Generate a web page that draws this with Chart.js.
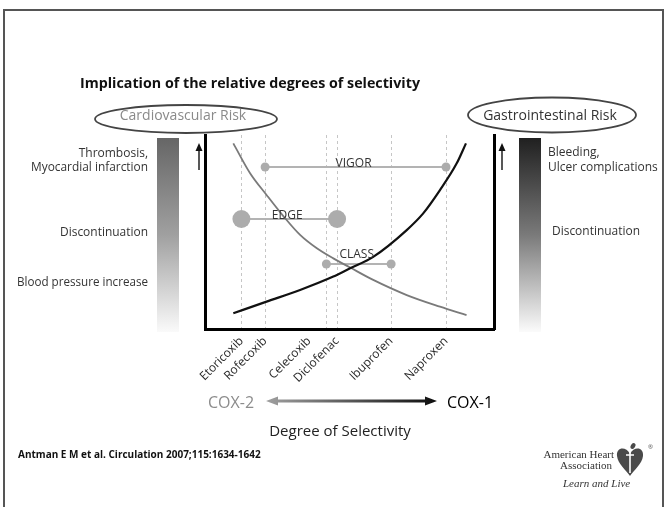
<!DOCTYPE html>
<html>
<head>
<meta charset="utf-8">
<title>Implication of the relative degrees of selectivity</title>
<script src="https://cdn.jsdelivr.net/npm/chart.js@4.4.1/dist/chart.umd.min.js"></script>
<style>
  html, body { margin: 0; padding: 0; background: #fff; }
  #wrap { position: relative; width: 667px; height: 507px; }
</style>
</head>
<body>
<div id="wrap"><canvas id="selectivity" width="667" height="507"></canvas></div>
<script>
// drugs along the COX-2 -> COX-1 selectivity axis (axis runs 0..100)
const drugs = ['Etoricoxib', 'Rofecoxib', 'Celecoxib', 'Diclofenac', 'Ibuprofen', 'Naproxen'];
const drugPos = [12.6, 20.8, 42.0, 45.7, 64.4, 83.4];

// cardiovascular risk (gray, falling) and gastrointestinal risk (black, rising)
const cvX = [9.8, 15.6, 21.3, 27.1, 32.9, 38.7, 44.4, 50.2, 58.2, 69.8, 81.3, 90.5];
const cvY = [95.7, 80.3, 69.1, 58.2, 48.5, 41.6, 36.4, 31.7, 25.3, 17.5, 11.5, 7.2];
const giX = [9.8, 21.3, 32.9, 44.4, 50.2, 58.2, 69.8, 75.5, 81.3, 87.1, 90.3];
const giY = [8.1, 14.1, 20.1, 27.0, 31.3, 37.2, 51.0, 59.6, 71.6, 85.4, 95.7];

// outcome trials: compared drugs (indices into drugs) and their level on the risk axis
const trialNames = ['VIGOR', 'EDGE', 'CLASS'];
const trialFrom = [1, 0, 2];
const trialTo = [5, 3, 4];
const trialLevel = [83.5, 56.7, 33.5];

const FONT = '"Open Sans", "Noto Sans", sans-serif';
const SERIF = '"Liberation Serif", "DejaVu Serif", serif';

function trialSet(i, dot) {
  return {
    label: trialNames[i],
    data: [
      { x: drugPos[trialFrom[i]], y: trialLevel[i] },
      { x: drugPos[trialTo[i]], y: trialLevel[i] }
    ],
    showLine: true,
    borderColor: '#b3b3b3',
    borderWidth: 2,
    pointRadius: dot,
    pointBackgroundColor: '#acacac',
    pointBorderWidth: 0
  };
}

function upArrow(ctx, x, yTail, yTip) {
  ctx.beginPath();
  ctx.moveTo(x, yTail);
  ctx.lineTo(x, yTip + 6);
  ctx.lineWidth = 1.4;
  ctx.strokeStyle = '#111';
  ctx.stroke();
  ctx.beginPath();
  ctx.moveTo(x, yTip);
  ctx.lineTo(x - 3.5, yTip + 8);
  ctx.lineTo(x + 3.5, yTip + 8);
  ctx.closePath();
  ctx.fillStyle = '#111';
  ctx.fill();
}

function text(ctx, str, x, y, font, color, align, maxW) {
  ctx.font = font;
  ctx.fillStyle = color;
  ctx.textAlign = align || 'left';
  ctx.textBaseline = 'alphabetic';
  if (maxW) ctx.fillText(str, x, y, maxW); else ctx.fillText(str, x, y);
}

// everything around the plot: frame, risk bars, ellipses, captions, logo
const slideDecor = {
  id: 'slideDecor',
  beforeDraw(chart) {
    const ctx = chart.ctx;
    ctx.save();
    ctx.fillStyle = '#fff';
    ctx.fillRect(0, 0, chart.width, chart.height);
    ctx.strokeStyle = '#555';
    ctx.lineWidth = 2;
    ctx.strokeRect(4, 10, 659, 510);

    // risk intensity bars
    let g = ctx.createLinearGradient(0, 138, 0, 332);
    g.addColorStop(0, '#666');
    g.addColorStop(0.5, '#a0a0a0');
    g.addColorStop(1, '#fafafa');
    ctx.fillStyle = g;
    ctx.fillRect(157, 138, 22, 194);
    g = ctx.createLinearGradient(0, 138, 0, 332);
    g.addColorStop(0, '#202020');
    g.addColorStop(0.5, '#7a7a7a');
    g.addColorStop(1, '#fbfbfb');
    ctx.fillStyle = g;
    ctx.fillRect(519, 138, 22, 194);

    // risk headers
    ctx.lineWidth = 1.8;
    ctx.strokeStyle = '#444';
    ctx.beginPath();
    ctx.ellipse(186, 119, 91, 14, 0, 0, Math.PI * 2);
    ctx.stroke();
    ctx.beginPath();
    ctx.ellipse(552, 115, 84, 17.5, 0, 0, Math.PI * 2);
    ctx.stroke();
    ctx.restore();
  },
  afterDraw(chart) {
    const ctx = chart.ctx;
    ctx.save();
    text(ctx, 'Implication of the relative degrees of selectivity', 80, 88, `bold 15px ${FONT}`, '#111', 'left', 340);
    text(ctx, 'Cardiovascular Risk', 183, 120, `14px ${FONT}`, '#8a8a8a', 'center', 140);
    text(ctx, 'Gastrointestinal Risk', 550, 120, `14px ${FONT}`, '#333', 'center', 134);

    const side = `12px ${FONT}`;
    text(ctx, 'Thrombosis,', 148, 157, side, '#333', 'right');
    text(ctx, 'Myocardial infarction', 148, 171, side, '#333', 'right', 117);
    text(ctx, 'Discontinuation', 148, 236, side, '#333', 'right', 88);
    text(ctx, 'Blood pressure increase', 148, 286, side, '#333', 'right', 131);
    text(ctx, 'Bleeding,', 548, 156, side, '#333', 'left');
    text(ctx, 'Ulcer complications', 548, 171, side, '#333', 'left', 110);
    text(ctx, 'Discontinuation', 552, 235, side, '#333', 'left', 88);

    upArrow(ctx, 199, 170, 143);
    upArrow(ctx, 502, 170, 143);

    // selectivity direction arrow
    const g = ctx.createLinearGradient(266, 0, 437, 0);
    g.addColorStop(0, '#a0a0a0');
    g.addColorStop(1, '#0d0d0d');
    ctx.fillStyle = g;
    ctx.beginPath();
    ctx.moveTo(266, 401);
    ctx.lineTo(278, 396.5);
    ctx.lineTo(278, 399.6);
    ctx.lineTo(425, 399.6);
    ctx.lineTo(425, 396.5);
    ctx.lineTo(437, 401);
    ctx.lineTo(425, 405.5);
    ctx.lineTo(425, 402.4);
    ctx.lineTo(278, 402.4);
    ctx.lineTo(278, 405.5);
    ctx.closePath();
    ctx.fill();
    text(ctx, 'COX-2', 208, 408, `16px ${FONT}`, '#8c8c8c', 'left', 49);
    text(ctx, 'COX-1', 447, 408, `16px ${FONT}`, '#000', 'left', 49);
    text(ctx, 'Degree of Selectivity', 340, 436, `15px ${FONT}`, '#222', 'center');

    text(ctx, 'Antman E M et al. Circulation 2007;115:1634-1642', 18, 458, `bold 10px ${FONT}`, '#111', 'left', 262);

    // association logo
    text(ctx, 'American Heart', 614, 458, `11px ${SERIF}`, '#333', 'right');
    text(ctx, 'Association', 612, 469, `11px ${SERIF}`, '#333', 'right');
    text(ctx, 'Learn and Live', 563, 487, `italic 11px ${SERIF}`, '#333', 'left');
    ctx.fillStyle = '#4a4a4a';
    ctx.beginPath();
    ctx.moveTo(630, 454);
    ctx.bezierCurveTo(626, 446, 616, 447, 617, 456);
    ctx.bezierCurveTo(618, 464, 626, 470, 630, 476);
    ctx.bezierCurveTo(634, 470, 642, 464, 643, 456);
    ctx.bezierCurveTo(644, 447, 634, 446, 630, 454);
    ctx.fill();
    ctx.beginPath();
    ctx.ellipse(633, 446, 2.2, 3.2, 0.5, 0, Math.PI * 2);
    ctx.fill();
    ctx.strokeStyle = '#fff';
    ctx.lineWidth = 1.6;
    ctx.beginPath();
    ctx.moveTo(630, 451);
    ctx.lineTo(630, 473);
    ctx.moveTo(626, 455);
    ctx.lineTo(634, 455);
    ctx.stroke();
    text(ctx, '®', 648, 449, `6px ${FONT}`, '#555', 'left');
    ctx.restore();
  }
};

// trial names sit on their connecting lines
const trialLabels = {
  id: 'trialLabels',
  afterDatasetsDraw(chart) {
    const { ctx, scales: { x, y } } = chart;
    const lift = [0, 0, 6];
    ctx.save();
    trialNames.forEach((name, i) => {
      const mid = (drugPos[trialFrom[i]] + drugPos[trialTo[i]]) / 2;
      text(ctx, name, x.getPixelForValue(mid) - 2, y.getPixelForValue(trialLevel[i]) - lift[i], `12px ${FONT}`, '#333', 'center');
    });
    ctx.restore();
  }
};

const hiddenAxis = (pos) => ({
  position: pos,
  min: 0,
  max: 100,
  ticks: { display: false },
  grid: { color: 'transparent', drawTicks: false },
  border: { color: '#000', width: 3 },
  afterFit: s => { s.width = 0; }
});

new Chart(document.getElementById('selectivity'), {
  type: 'scatter',
  data: {
    datasets: [
      {
        label: 'GI risk',
        data: giX.map((v, i) => ({ x: v, y: giY[i] })),
        showLine: true,
        borderColor: '#111',
        borderWidth: 2.2,
        pointRadius: 0,
        cubicInterpolationMode: 'monotone'
      },
      {
        label: 'CV risk',
        data: cvX.map((v, i) => ({ x: v, y: cvY[i] })),
        showLine: true,
        borderColor: '#7a7a7a',
        borderWidth: 1.8,
        pointRadius: 0,
        cubicInterpolationMode: 'monotone'
      },
      trialSet(0, 4.5),
      trialSet(1, 9),
      trialSet(2, 4.5)
    ]
  },
  options: {
    responsive: false,
    animation: false,
    layout: { padding: { left: 205, right: 173, top: 135, bottom: 0 } },
    plugins: { legend: { display: false }, tooltip: { enabled: false } },
    scales: {
      // dashed drug guides and the base line
      x: {
        type: 'linear',
        position: 'bottom',
        weight: 0,
        min: 0,
        max: 100,
        afterBuildTicks: s => { s.ticks = drugPos.map(v => ({ value: v })); },
        afterFit: s => { s.height = 0; },
        ticks: { display: false },
        grid: { color: '#c6c6c6', lineWidth: 1, drawTicks: false },
        border: { color: '#000', width: 3, dash: [3, 3] }
      },
      // drug names; Celecoxib steps left so it clears Diclofenac
      names: {
        type: 'linear',
        position: 'bottom',
        weight: 1,
        min: 0,
        max: 100,
        afterBuildTicks: s => {
          s.ticks = drugPos.map((v, i) => ({ value: drugs[i] === 'Celecoxib' ? v - 6 : v }));
        },
        afterFit: s => { s.height = 178; },
        ticks: {
          autoSkip: false,
          minRotation: 45,
          maxRotation: 45,
          padding: -3,
          color: '#2a2a2a',
          font: { family: FONT, size: 12 },
          callback: (v, i) => drugs[i]
        },
        grid: { display: false },
        border: { display: false }
      },
      y: hiddenAxis('left'),
      y2: hiddenAxis('right')
    }
  },
  plugins: [slideDecor, trialLabels]
});
</script>
</body>
</html>
